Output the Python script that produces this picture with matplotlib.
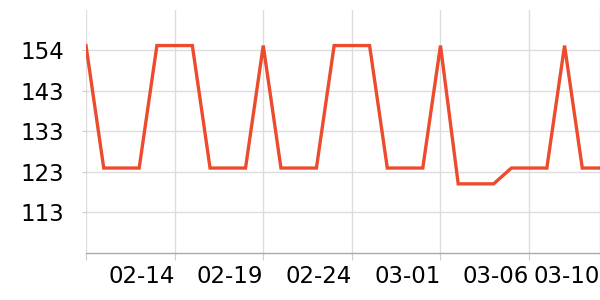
import matplotlib
matplotlib.use('Agg')
import matplotlib.pyplot as plt
from datetime import datetime

# Data
dates = ['2025-02-09', '2025-02-10', '2025-02-11', '2025-02-12', '2025-02-13',
         '2025-02-14', '2025-02-15', '2025-02-16', '2025-02-17', '2025-02-18',
         '2025-02-19', '2025-02-20', '2025-02-21', '2025-02-22', '2025-02-23',
         '2025-02-24', '2025-02-25', '2025-02-26', '2025-02-27', '2025-02-28',
         '2025-03-01', '2025-03-02', '2025-03-03', '2025-03-04', '2025-03-05',
         '2025-03-06', '2025-03-07', '2025-03-08', '2025-03-09', '2025-03-10']
values = [155, 124, 124, 124, 155, 155, 155, 124, 124, 124,
          155, 124, 124, 124, 155, 155, 155, 124, 124, 124,
          155, 120, 120, 120, 124, 124, 124, 155, 124, 124]

y_ticks = [112.75, 123, 133.25, 143.5, 153.75]
y_tick_labels = ['113', '123', '133', '143', '154']
x_tick_dates = ['2025-02-09', '2025-02-14', '2025-02-19', '2025-02-24',
                '2025-03-01', '2025-03-06', '2025-03-10']
x_tick_labels = ['', '02-14', '02-19', '02-24', '03-01', '03-06', '03-10']

C_LINE = '#ec4b2e'
C_GRID = '#dddddd'
C_AXIS = '#aaaaaa'

x = [datetime.strptime(d, '%Y-%m-%d') for d in dates]
xt = [datetime.strptime(d, '%Y-%m-%d') for d in x_tick_dates]

fig = plt.figure(figsize=(6, 3), dpi=100)
ax = fig.add_axes([86 / 600, 47 / 300, 514 / 600, 243 / 300])
ax.plot(x, values, color=C_LINE, lw=2.4, solid_joinstyle='miter', zorder=3)

ax.set_xlim(x[0], x[-1])
ax.set_ylim(102.5, 164)

ax.set_yticks(y_ticks)
ax.set_yticklabels(y_tick_labels)
ax.set_xticks(xt)
ax.set_xticklabels(x_tick_labels, ha='right')

ax.grid(True, color=C_GRID, lw=1)
ax.set_axisbelow(True)
for s in ['top', 'right', 'left']:
    ax.spines[s].set_visible(False)
ax.spines['bottom'].set_color(C_AXIS)
ax.spines['bottom'].set_linewidth(1)

ax.tick_params(axis='y', length=3, color='#cccccc', pad=13, labelsize=16.5)
ax.tick_params(axis='x', length=5, color='#cccccc', pad=3.5, labelsize=16.5)

plt.savefig('out.png', dpi=100, facecolor='white')
plt.close()
